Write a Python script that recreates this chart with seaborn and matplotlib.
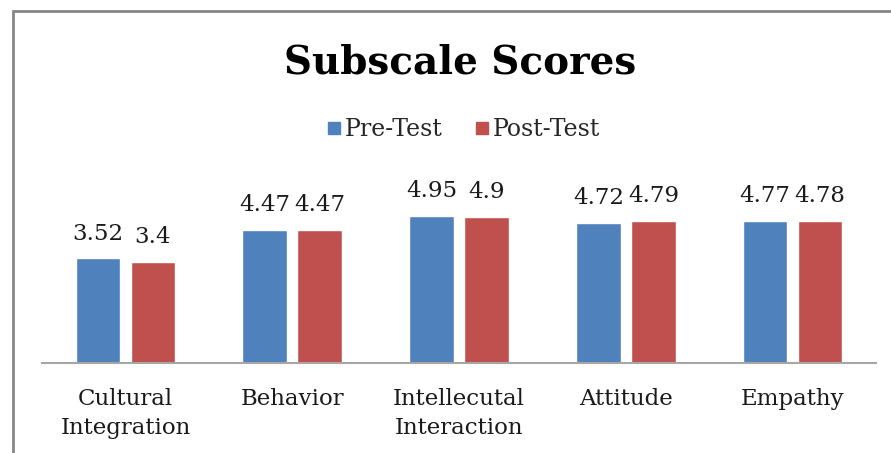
import pandas as pd
import seaborn as sns
import matplotlib.pyplot as plt
from matplotlib.patches import Rectangle
from matplotlib.lines import Line2D

# chart values
categories = ["Cultural\nIntegration", "Behavior", "Intellecutal\nInteraction", "Attitude", "Empathy"]
series = ["Pre-Test", "Post-Test"]
pre_test = [3.52, 4.47, 4.95, 4.72, 4.77]
post_test = [3.4, 4.47, 4.9, 4.79, 4.78]
colors = ["#4F81BD", "#C0504D"]

df = pd.DataFrame({
    "Subscale": categories * 2,
    "Test": [series[0]] * len(categories) + [series[1]] * len(categories),
    "Score": pre_test + post_test,
})

sns.set_style("white")
plt.rcParams["font.family"] = ["DejaVu Serif"]

fig = plt.figure(figsize=(8.91, 4.53), dpi=100)
ax = fig.add_axes([42 / 891, 1 - 363.3 / 453, (876 - 42) / 891, 178.8 / 453])

sns.barplot(data=df, x="Subscale", y="Score", hue="Test", palette=colors,
            width=0.66, gap=0.19, ax=ax, legend=False, saturation=1)

ax.set_ylim(0, 6)
ax.set_xlim(-0.5, 4.5)
ax.set_xlabel("")
ax.set_ylabel("")
ax.set_yticks([])
for s in ["top", "left", "right"]:
    ax.spines[s].set_visible(False)
ax.spines["bottom"].set_color("#A6A6A6")
ax.spines["bottom"].set_linewidth(1.5)
ax.tick_params(axis="x", length=0, pad=17.5, labelsize=16.5, colors="#1a1a1a")
for lbl in ax.get_xticklabels():
    lbl.set_linespacing(1.45)

for cont in ax.containers:
    ax.bar_label(cont, labels=[f"{v:g}" for v in cont.datavalues],
                 padding=10, fontsize=16.5, color="#1a1a1a")

handles = [Line2D([], [], marker="s", linestyle="", markersize=8,
                  markerfacecolor=c, markeredgecolor=c) for c in colors]
fig.legend(handles, series, loc="center", bbox_to_anchor=(463 / 891, 1 - 130 / 453),
           ncol=2, frameon=False, fontsize=17, handletextpad=0.1,
           columnspacing=1.3, handlelength=0.7)

fig.text(460 / 891, 1 - 62 / 453, "Subscale Scores", ha="center", va="center",
         fontsize=28, fontweight="bold", color="black")

# outer chart border
fig.patches.append(Rectangle((13 / 891, -0.1), 1.2, 1 - 11 / 453 + 0.1,
                             transform=fig.transFigure, fill=False,
                             edgecolor="#868686", linewidth=2))

fig.savefig("out.png", dpi=100)
